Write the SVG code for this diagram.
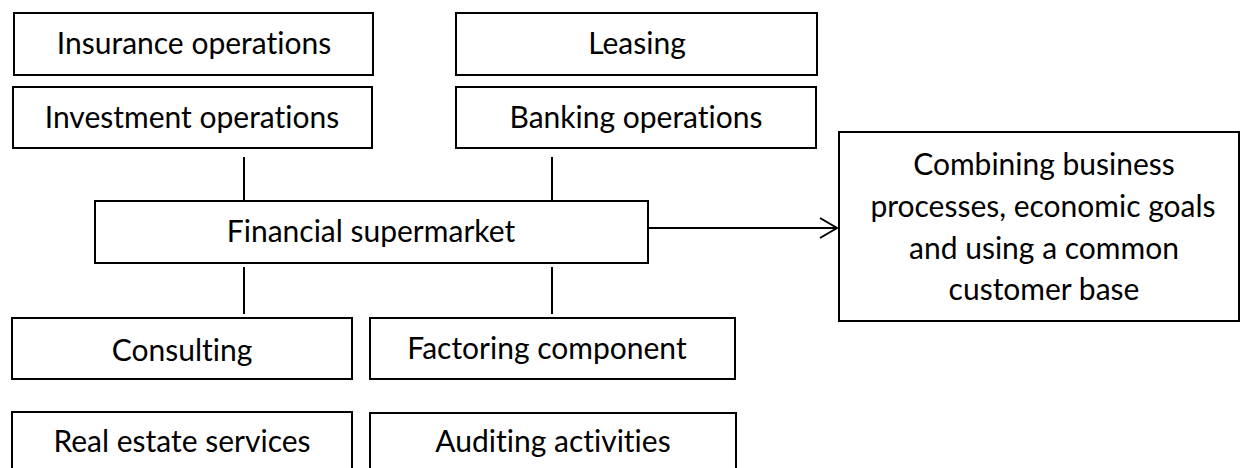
<svg xmlns="http://www.w3.org/2000/svg" width="1241" height="468" viewBox="0 0 1241 468">
<style>
.box{fill:#fff;stroke:#000;stroke-width:2}
.lbl{font-family:Lato,"Liberation Sans",sans-serif;font-size:30px;fill:#000;text-anchor:middle;font-variant-ligatures:none}
.ln{stroke:#000;stroke-width:2;fill:none}
</style>
<rect width="1241" height="468" fill="#fff"/>
<g id="insurance"><rect class="box" x="14" y="13" width="359" height="62"/><text class="lbl" x="194" y="54">Insurance operations</text></g>
<g id="investment"><rect class="box" x="13" y="87" width="359" height="61"/><text class="lbl" x="192" y="128">Investment operations</text></g>
<g id="leasing"><rect class="box" x="456" y="13" width="361" height="62"/><text class="lbl" x="637" y="54">Leasing</text></g>
<g id="banking"><rect class="box" x="456" y="87" width="360" height="61"/><text class="lbl" x="636" y="128">Banking operations</text></g>
<g id="supermarket"><rect class="box" x="95" y="201" width="553" height="62"/><text class="lbl" x="371" y="242">Financial supermarket</text></g>
<g id="consulting"><rect class="box" x="12" y="318" width="340" height="61"/><text class="lbl" x="182" y="361">Consulting</text></g>
<g id="factoring"><rect class="box" x="370" y="318" width="365" height="61"/><text class="lbl" x="547" y="359">Factoring component</text></g>
<g id="realestate"><rect class="box" x="12" y="412" width="340" height="70"/><text class="lbl" x="182" y="452">Real estate services</text></g>
<g id="auditing"><rect class="box" x="370" y="413" width="366" height="70"/><text class="lbl" x="553" y="452">Auditing activities</text></g>
<g id="result"><rect class="box" x="839" y="132" width="400" height="189"/>
<text class="lbl" x="1044" y="175">Combining business</text>
<text class="lbl" x="1043" y="217">processes, economic goals</text>
<text class="lbl" x="1044" y="259">and using a common</text>
<text class="lbl" x="1044" y="300">customer base</text></g>
<g id="connectors">
<line class="ln" x1="244" y1="157" x2="244" y2="201"/>
<line class="ln" x1="552" y1="157" x2="552" y2="201"/>
<line class="ln" x1="244" y1="267" x2="244" y2="314"/>
<line class="ln" x1="552" y1="267" x2="552" y2="314"/>
<line class="ln" x1="648" y1="228" x2="837" y2="228"/>
<polyline class="ln" points="820,218 837,228 820,238"/>
</g>
</svg>
